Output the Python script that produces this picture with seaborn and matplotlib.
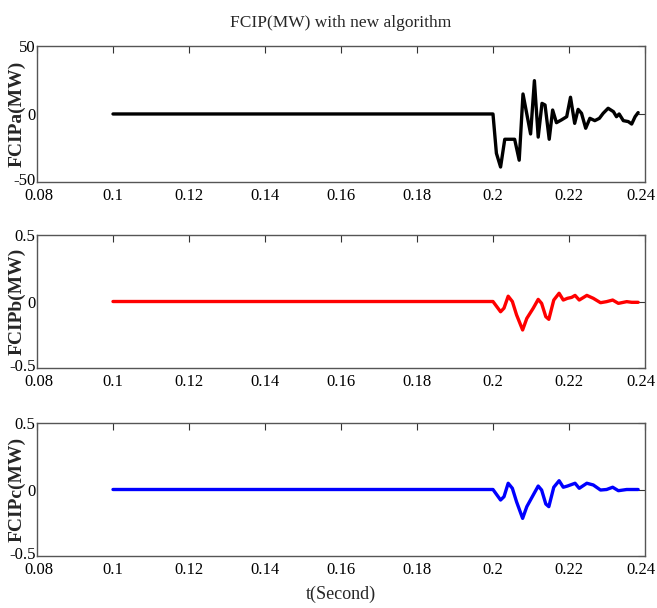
import matplotlib
matplotlib.use("Agg")
import matplotlib.pyplot as plt
import matplotlib.transforms as mtrans
import seaborn as sns
import pandas as pd

# ---- data ----
ta = [0.1, 0.2, 0.2009, 0.2020, 0.2031, 0.2057, 0.2069, 0.2079, 0.2099, 0.2109,
      0.2119, 0.2129, 0.2137, 0.2148, 0.2157, 0.2167, 0.2180, 0.2194, 0.2204,
      0.2215, 0.2224, 0.2233, 0.2244, 0.2255, 0.2268, 0.2280, 0.2290, 0.2303,
      0.2317, 0.2325, 0.2332, 0.2343, 0.2356, 0.2365, 0.2374, 0.2382]
pa = [0, 0, -28.9, -39, -18.6, -18.6, -34, 14.7, -14.7, 24.5,
      -17, 7.8, 6.6, -18.6, 2.9, -6.4, -4.4, -2, 12.3,
      -6.9, 3.4, 0.5, -10.5, -3.2, -4.9, -3.2, 0.5, 4.2,
      1.7, -2, 0, -4.9, -5.6, -7.4, -2, 1]

tb = [0.1, 0.2, 0.2020, 0.2029, 0.2040, 0.2051, 0.2062, 0.2078, 0.2089, 0.2106,
      0.2119, 0.2128, 0.2139, 0.2147, 0.2160, 0.2174, 0.2185, 0.2196, 0.2207,
      0.2216, 0.2227, 0.2247, 0.2264, 0.2283, 0.2299, 0.2315, 0.2330, 0.2352,
      0.2365, 0.2382]
pb = [0, 0, -0.077, -0.05, 0.04, 0.0, -0.10, -0.214, -0.127, -0.05,
      0.016, -0.014, -0.114, -0.134, 0.011, 0.062, 0.011, 0.024, 0.031,
      0.046, 0.011, 0.046, 0.024, -0.009, -0.001, 0.011, -0.014, -0.001,
      -0.006, -0.006]

tc = [0.1, 0.2, 0.2020, 0.2029, 0.2040, 0.2051, 0.2062, 0.2078, 0.2089, 0.2106,
      0.2119, 0.2128, 0.2139, 0.2147, 0.2160, 0.2174, 0.2185, 0.2196, 0.2216,
      0.2227, 0.2247, 0.2264, 0.2283, 0.2299, 0.2315, 0.2330, 0.2352, 0.2382]
pc = [0, 0, -0.079, -0.054, 0.047, 0.009, -0.092, -0.217, -0.129, -0.041,
      0.026, -0.004, -0.109, -0.129, 0.017, 0.066, 0.017, 0.026, 0.047,
      0.009, 0.047, 0.034, -0.004, 0.0, 0.017, -0.009, 0.0, 0.0]

xticks = [0.08, 0.1, 0.12, 0.14, 0.16, 0.18, 0.2, 0.22, 0.24]
xticklabels = ["0.08", "0.1", "0.12", "0.14", "0.16", "0.18", "0.2", "0.22", "0.24"]

title = "FCIP(MW) with new algorithm"
ylabels = ["FCIPa(MW)", "FCIPb(MW)", "FCIPc(MW)"]
xlabel = "t(Second)"

sns.set_style("white")
plt.rcParams["font.family"] = ["Liberation Serif", "DejaVu Serif"]
plt.rcParams["xtick.direction"] = "in"
plt.rcParams["ytick.direction"] = "in"

fig = plt.figure(figsize=(6.57, 6.08), dpi=100)
left, width = 0.0563, 0.9254
pos = [(0.7007, 0.2237), (0.3947, 0.2188), (0.0855, 0.2188)]

series = [(ta, pa, "black", (-50, 50), [-50, 0, 50], ["-50", "0", "50"]),
          (tb, pb, "#ff0000", (-0.5, 0.5), [-0.5, 0, 0.5], ["-0.5", "0", "0.5"]),
          (tc, pc, "#0000ff", (-0.5, 0.5), [-0.5, 0, 0.5], ["-0.5", "0", "0.5"])]

axes = []
for i, ((t, p, col, ylim, yt, ytl), (b, h)) in enumerate(zip(series, pos)):
    ax = fig.add_axes([left, b, width, h])
    df = pd.DataFrame({"t": t, "p": p})
    sns.lineplot(data=df, x="t", y="p", ax=ax, color=col, linewidth=2.4,
                 sort=False, estimator=None)
    ax.set_xlim(0.08, 0.24)
    ax.set_ylim(*ylim)
    ax.set_xticks(xticks)
    ax.set_xticklabels(xticklabels, fontsize=12)
    ax.set_yticks(yt)
    ax.set_yticklabels(ytl, fontsize=12)
    ax.tick_params(axis="both", which="both", direction="in", top=True, right=True,
                   length=5, width=0.8, colors="#333333", labelcolor="black")
    ax.tick_params(axis="x", pad=4)
    ax.tick_params(axis="y", pad=1)
    # nudge edge labels so they stay inside the figure
    xl = ax.get_xticklabels()
    xl[-1].set_transform(xl[-1].get_transform() +
                         mtrans.ScaledTranslation(-4 / 100, 0, fig.dpi_scale_trans))
    xl[0].set_transform(xl[0].get_transform() +
                        mtrans.ScaledTranslation(2 / 100, 0, fig.dpi_scale_trans))
    yl = ax.get_yticklabels()
    yl[0].set_transform(yl[0].get_transform() +
                        mtrans.ScaledTranslation(0, 3 / 100, fig.dpi_scale_trans))
    for s in ax.spines.values():
        s.set_color("#555555")
        s.set_linewidth(1.0)
    ax.set_ylabel(ylabels[i], fontsize=14, fontweight="bold")
    ax.yaxis.set_label_coords(-0.018, 0.5)
    ax.set_xlabel("")
    axes.append(ax)

axes[0].set_title(title, fontsize=12.5, pad=14)
axes[2].set_xlabel(xlabel, fontsize=13, labelpad=6)

fig.savefig("out.png", dpi=100)
